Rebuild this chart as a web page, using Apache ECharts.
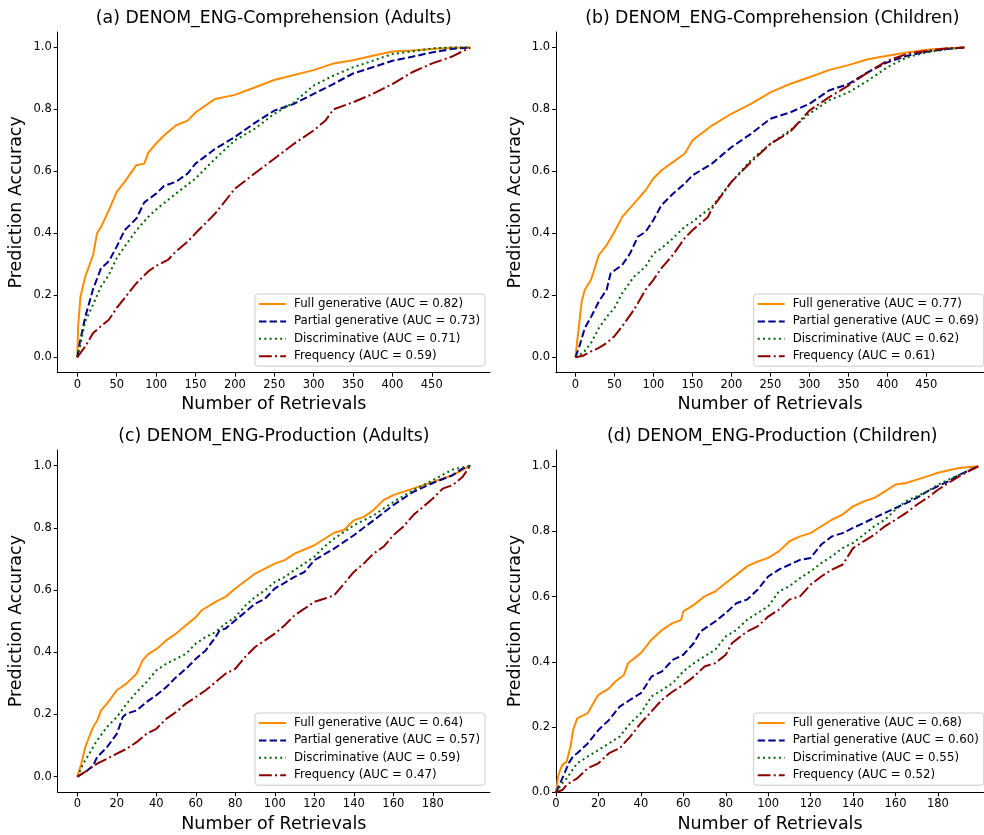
<!DOCTYPE html>
<html>
<head>
<meta charset="utf-8">
<script src="https://cdn.jsdelivr.net/npm/echarts@6/dist/echarts.min.js"></script>
<style>
  html, body { margin: 0; padding: 0; background: #fff; }
  #chart { width: 984px; height: 835px; }
</style>
</head>
<body>
<div id="chart"></div>
<script>
// panel titles / legend names
const titles = [
  '(a) DENOM_ENG-Comprehension (Adults)',
  '(b) DENOM_ENG-Comprehension (Children)',
  '(c) DENOM_ENG-Production (Adults)',
  '(d) DENOM_ENG-Production (Children)'
]
const methods = ['Full generative', 'Partial generative', 'Discriminative', 'Frequency']
const aucA = ['0.82', '0.73', '0.71', '0.59']
const aucB = ['0.77', '0.69', '0.62', '0.61']
const aucC = ['0.64', '0.57', '0.59', '0.47']
const aucD = ['0.68', '0.60', '0.55', '0.52']

const ticksLong = [0, 50, 100, 150, 200, 250, 300, 350, 400, 450]
const ticksShort = [0, 20, 40, 60, 80, 100, 120, 140, 160, 180]
const ticksY = [0, 0.2, 0.4, 0.6, 0.8, 1.0]

// (a) comprehension, adults
const aFull = [[0,0],[1,0.1],[4,0.196],[10,0.26],[20,0.33],[25,0.40],[30,0.42],[40,0.475],[50,0.534],[60,0.566],[75,0.62],[85,0.625],[90,0.66],[100,0.69],[110,0.716],[125,0.748],[140,0.764],[150,0.79],[175,0.834],[200,0.847],[225,0.871],[250,0.895],[275,0.911],[300,0.927],[325,0.948],[350,0.959],[375,0.973],[400,0.987],[425,0.99],[450,0.995],[475,0.999],[499,1.0]]
const aPart = [[0,0],[3,0.046],[10,0.13],[20,0.22],[30,0.287],[40,0.31],[50,0.357],[60,0.41],[75,0.448],[85,0.50],[100,0.528],[110,0.553],[125,0.566],[140,0.593],[150,0.625],[175,0.673],[200,0.711],[225,0.756],[250,0.796],[275,0.818],[300,0.85],[325,0.882],[350,0.916],[375,0.936],[400,0.957],[425,0.97],[450,0.984],[475,0.995],[499,1.0]]
const aDisc = [[0,0],[3,0.03],[10,0.116],[20,0.17],[30,0.228],[40,0.266],[50,0.32],[60,0.357],[75,0.41],[90,0.453],[100,0.477],[125,0.528],[150,0.577],[175,0.641],[200,0.70],[225,0.737],[250,0.786],[275,0.823],[300,0.877],[325,0.909],[350,0.936],[375,0.957],[400,0.979],[425,0.987],[450,0.997],[475,1.0],[499,1.0]]
const aFreq = [[0,0],[10,0.035],[20,0.078],[30,0.10],[40,0.121],[50,0.159],[60,0.191],[75,0.239],[90,0.277],[100,0.295],[115,0.314],[125,0.341],[140,0.373],[150,0.40],[175,0.464],[200,0.544],[225,0.593],[250,0.641],[275,0.689],[300,0.732],[315,0.764],[325,0.80],[350,0.823],[375,0.85],[400,0.882],[425,0.92],[450,0.948],[475,0.97],[499,1.0]]

// (b) comprehension, children
const bFull = [[0,0],[3,0.068],[8,0.18],[12,0.218],[20,0.25],[30,0.33],[40,0.362],[50,0.405],[60,0.453],[75,0.496],[90,0.539],[100,0.577],[110,0.603],[125,0.63],[140,0.657],[150,0.70],[175,0.748],[200,0.786],[225,0.818],[250,0.855],[275,0.882],[300,0.904],[325,0.927],[350,0.943],[375,0.962],[400,0.973],[425,0.984],[450,0.993],[475,0.997],[499,1.0]]
const bPart = [[0,0],[5,0.035],[12,0.094],[20,0.13],[30,0.18],[40,0.218],[45,0.27],[50,0.28],[60,0.298],[70,0.335],[80,0.389],[90,0.405],[100,0.443],[110,0.49],[125,0.528],[140,0.56],[150,0.587],[175,0.625],[200,0.678],[225,0.721],[250,0.77],[275,0.79],[300,0.818],[325,0.861],[350,0.882],[375,0.92],[400,0.952],[425,0.973],[450,0.986],[475,0.995],[499,1.0]]
const bDisc = [[0,0],[10,0.014],[20,0.046],[30,0.094],[40,0.13],[50,0.159],[60,0.207],[75,0.26],[90,0.293],[100,0.335],[110,0.351],[125,0.384],[140,0.421],[150,0.437],[175,0.486],[200,0.566],[225,0.636],[250,0.689],[275,0.732],[300,0.786],[325,0.829],[350,0.855],[375,0.893],[400,0.936],[425,0.968],[450,0.984],[475,0.994],[499,1.0]]
const bFreq = [[0,0],[10,0.005],[20,0.019],[30,0.03],[40,0.046],[50,0.068],[60,0.10],[75,0.153],[90,0.218],[100,0.25],[110,0.287],[125,0.33],[140,0.384],[150,0.41],[170,0.453],[175,0.48],[200,0.566],[225,0.63],[250,0.689],[275,0.727],[300,0.796],[325,0.839],[350,0.877],[375,0.92],[400,0.957],[425,0.979],[450,0.989],[475,0.997],[499,1.0]]

// (c) production, adults
const cFull = [[0,0],[2,0.042],[4,0.095],[6,0.128],[8,0.16],[10,0.18],[12,0.213],[15,0.235],[20,0.278],[25,0.30],[30,0.331],[33,0.374],[36,0.395],[40,0.41],[45,0.438],[50,0.46],[55,0.487],[60,0.513],[63,0.535],[70,0.562],[75,0.578],[80,0.605],[90,0.653],[100,0.685],[105,0.696],[110,0.717],[120,0.744],[130,0.784],[135,0.793],[140,0.824],[145,0.835],[150,0.857],[155,0.889],[160,0.905],[170,0.926],[180,0.947],[190,0.969],[195,0.985],[199,1.0]]
const cPart = [[0,0],[5,0.02],[8,0.036],[10,0.063],[15,0.095],[20,0.138],[23,0.192],[25,0.203],[30,0.213],[35,0.24],[40,0.262],[45,0.288],[50,0.32],[55,0.347],[60,0.379],[65,0.406],[70,0.449],[72,0.47],[75,0.476],[80,0.503],[85,0.529],[90,0.556],[95,0.572],[100,0.605],[110,0.642],[115,0.658],[120,0.696],[130,0.733],[140,0.776],[150,0.824],[160,0.873],[170,0.915],[180,0.944],[190,0.969],[195,0.99],[199,1.0]]
const cDisc = [[0,0],[3,0.042],[5,0.063],[10,0.117],[15,0.16],[20,0.192],[25,0.235],[30,0.272],[35,0.304],[40,0.342],[45,0.363],[50,0.379],[55,0.395],[60,0.428],[65,0.449],[70,0.465],[75,0.492],[80,0.513],[85,0.55],[90,0.578],[95,0.599],[100,0.626],[105,0.642],[110,0.664],[120,0.707],[125,0.739],[130,0.765],[140,0.808],[150,0.84],[160,0.883],[170,0.921],[180,0.953],[190,0.987],[199,1.0]]
const cFreq = [[0,0],[5,0.02],[10,0.042],[15,0.058],[20,0.074],[25,0.09],[30,0.111],[35,0.138],[40,0.154],[45,0.186],[50,0.208],[55,0.235],[60,0.256],[65,0.278],[70,0.304],[75,0.331],[80,0.347],[85,0.385],[90,0.417],[95,0.438],[100,0.46],[105,0.487],[110,0.519],[115,0.54],[120,0.562],[125,0.572],[130,0.583],[135,0.62],[140,0.658],[145,0.685],[150,0.717],[155,0.739],[160,0.776],[165,0.803],[170,0.84],[175,0.867],[180,0.894],[185,0.926],[190,0.937],[195,0.963],[199,1.0]]

// (d) production, children
const dFull = [[0,0],[1,0.048],[2,0.069],[3,0.084],[5,0.094],[7,0.145],[8,0.19],[10,0.227],[15,0.243],[18,0.278],[20,0.299],[25,0.319],[28,0.34],[32,0.36],[34,0.396],[38,0.417],[40,0.427],[45,0.468],[50,0.498],[55,0.519],[59,0.529],[60,0.555],[65,0.575],[70,0.601],[75,0.616],[80,0.642],[85,0.667],[90,0.693],[95,0.708],[100,0.719],[105,0.739],[110,0.77],[115,0.785],[120,0.795],[125,0.816],[130,0.836],[135,0.852],[140,0.877],[145,0.892],[150,0.903],[155,0.923],[160,0.944],[165,0.949],[170,0.959],[175,0.969],[180,0.98],[185,0.988],[190,0.995],[199,1.0]]
const dPart = [[0,0],[2,0.028],[4,0.058],[6,0.089],[8,0.11],[10,0.12],[15,0.15],[20,0.191],[25,0.222],[30,0.263],[35,0.284],[40,0.304],[42,0.324],[45,0.355],[50,0.371],[55,0.406],[60,0.422],[65,0.458],[68,0.493],[75,0.524],[80,0.55],[85,0.58],[90,0.591],[95,0.621],[100,0.662],[105,0.683],[110,0.698],[115,0.713],[120,0.719],[125,0.76],[130,0.785],[135,0.795],[140,0.811],[145,0.826],[150,0.842],[155,0.857],[160,0.872],[165,0.887],[170,0.903],[175,0.923],[180,0.939],[185,0.954],[190,0.974],[199,1.0]]
const dDisc = [[0,0],[3,0.028],[5,0.043],[10,0.089],[15,0.11],[20,0.13],[25,0.15],[30,0.171],[35,0.212],[40,0.243],[45,0.294],[50,0.314],[55,0.335],[60,0.371],[65,0.396],[70,0.417],[75,0.437],[80,0.478],[85,0.498],[90,0.529],[95,0.55],[100,0.57],[105,0.616],[110,0.632],[115,0.657],[120,0.678],[125,0.703],[130,0.724],[135,0.749],[140,0.765],[145,0.79],[150,0.816],[155,0.836],[160,0.867],[165,0.893],[170,0.908],[175,0.923],[180,0.944],[190,0.974],[199,1.0]]
const dFreq = [[0,0],[3,0.007],[5,0.023],[10,0.043],[15,0.074],[20,0.089],[25,0.12],[30,0.135],[35,0.171],[40,0.212],[45,0.248],[50,0.284],[55,0.309],[60,0.33],[65,0.355],[70,0.386],[75,0.396],[80,0.422],[83,0.458],[90,0.493],[95,0.509],[100,0.539],[105,0.56],[110,0.591],[115,0.601],[120,0.637],[125,0.662],[130,0.683],[135,0.698],[140,0.749],[145,0.77],[150,0.79],[155,0.816],[160,0.836],[165,0.857],[170,0.882],[175,0.903],[180,0.928],[185,0.949],[190,0.969],[199,1.0]]

const FONT = 'DejaVu Sans'
const colors = ['#ff8c00', '#00008b', '#006400', '#8b0000']
const dashes = ['solid', [7.4, 3.2], [2, 3.3], [12.8, 3.2, 2, 3.2]]

// panel layout (pixels)
const panels = [
  { grid: { left: 57.7, top: 32, width: 432.3, height: 340.7 }, x: [-24.95, 523.95], y: [-0.05, 1.05], ticks: ticksLong, auc: aucA, data: [aFull, aPart, aDisc, aFreq], legend: [255, 294] },
  { grid: { left: 556, top: 32, width: 432.6, height: 340.7 }, x: [-24.95, 523.95], y: [-0.05, 1.05], ticks: ticksLong, auc: aucB, data: [bFull, bPart, bDisc, bFreq], legend: [753.7, 294] },
  { grid: { left: 57.7, top: 450, width: 432.3, height: 342.3 }, x: [-9.95, 208.95], y: [-0.05, 1.05], ticks: ticksShort, auc: aucC, data: [cFull, cPart, cDisc, cFreq], legend: [255, 713] },
  { grid: { left: 556, top: 450, width: 432.6, height: 342.3 }, x: [0, 201.7], y: [0, 1.05], ticks: ticksShort, auc: aucD, data: [dFull, dPart, dDisc, dFreq], legend: [753.7, 713] }
]

const option = {
  animation: false,
  backgroundColor: '#fff',
  textStyle: { fontFamily: FONT },
  title: [], grid: [], xAxis: [], yAxis: [], legend: [], series: []
}

panels.forEach((p, i) => {
  const names = methods.map((m, k) => m + ' (AUC = ' + p.auc[k] + ')')
  option.grid.push(p.grid)
  option.title.push({
    text: titles[i],
    left: p.grid.left + p.grid.width / 2,
    top: p.grid.top - 23,
    textAlign: 'center',
    padding: 0,
    textStyle: { fontFamily: FONT, fontSize: 17.3, fontWeight: 'normal', color: '#000', lineHeight: 20 }
  })
  option.xAxis.push({
    gridIndex: i, type: 'value', min: p.x[0], max: p.x[1],
    name: 'Number of Retrievals', nameLocation: 'middle', nameGap: 23,
    nameTextStyle: { fontFamily: FONT, fontSize: 17.5, color: '#000' },
    axisLine: { show: true, onZero: false, lineStyle: { color: '#000', width: 1 } },
    axisTick: { show: true, length: 4, customValues: p.ticks, lineStyle: { color: '#000' } },
    axisLabel: { customValues: p.ticks, fontFamily: FONT, fontSize: 11.5, color: '#000', margin: 6 },
    splitLine: { show: false }
  })
  option.yAxis.push({
    gridIndex: i, type: 'value', min: p.y[0], max: p.y[1],
    name: 'Prediction Accuracy', nameLocation: 'middle', nameGap: 32,
    nameTextStyle: { fontFamily: FONT, fontSize: 17.5, color: '#000' },
    axisLine: { show: true, onZero: false, lineStyle: { color: '#000', width: 1 } },
    axisTick: { show: true, length: 4, customValues: ticksY, lineStyle: { color: '#000' } },
    axisLabel: { customValues: ticksY, fontFamily: FONT, fontSize: 11.5, color: '#000', margin: 6,
      formatter: v => v.toFixed(1) },
    splitLine: { show: false }
  })
  option.legend.push({
    data: names, orient: 'vertical', left: p.legend[0], top: p.legend[1],
    itemWidth: 27, itemHeight: 14, itemGap: 3.4,
    padding: [3, 5, 3, 3],
    borderColor: '#cccccc', borderWidth: 1, borderRadius: 3,
    backgroundColor: 'rgba(255,255,255,0.8)',
    selectedMode: false,
    itemStyle: { opacity: 0 },
    lineStyle: { width: 2 },
    textStyle: { fontFamily: FONT, fontSize: 11.8, color: '#000', lineHeight: 14, padding: [0, 0, 0, 3] }
  })
  names.forEach((n, k) => {
    option.series.push({
      name: n, type: 'line', xAxisIndex: i, yAxisIndex: i,
      data: p.data[k], symbol: 'none', smooth: false,
      lineStyle: { color: colors[k], width: 2, type: dashes[k] },
      itemStyle: { color: colors[k] }
    })
  })
})

const myChart = echarts.init(document.getElementById('chart'), null, { renderer: 'canvas' })
myChart.setOption(option)
</script>
</body>
</html>
